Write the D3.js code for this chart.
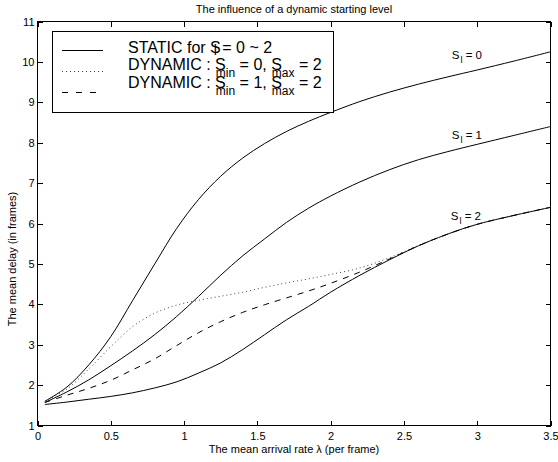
<!DOCTYPE html>
<html>
<head>
<meta charset="utf-8">
<script src="https://cdn.jsdelivr.net/npm/d3@7"></script>
<style>
  html, body { margin: 0; padding: 0; background: #fff; }
  svg { display: block; }
  text { font-family: "Liberation Sans", Arial, Helvetica, sans-serif; fill: #000; }
</style>
</head>
<body>
<svg id="chart" width="558" height="462"></svg>
<script>
// ---- data ----
const lambda   = [0.05,0.2,0.35,0.5,0.65,0.8,0.95,1.1,1.25,1.4,1.55,1.7,1.85,2.0,2.2,2.4,2.6,2.8,3.0,3.25,3.5];
const staticS0 = [1.6,1.95,2.5,3.2,4.1,5.0,5.88,6.6,7.17,7.62,7.98,8.28,8.53,8.75,9.02,9.25,9.45,9.63,9.8,10.02,10.25];
const staticS1 = [1.57,1.83,2.13,2.48,2.85,3.25,3.7,4.2,4.72,5.2,5.62,6.03,6.38,6.68,7.03,7.33,7.58,7.78,7.96,8.18,8.4];
const staticS2 = [1.52,1.58,1.65,1.72,1.81,1.93,2.08,2.3,2.55,2.88,3.25,3.62,3.95,4.3,4.72,5.1,5.45,5.74,5.98,6.2,6.4];
const dynamic02 = [1.6,1.9,2.4,2.95,3.45,3.78,3.98,4.1,4.2,4.3,4.42,4.53,4.63,4.74,4.9,5.15,5.46,5.74,5.98,6.2,6.4];
const dynamic12 = [1.57,1.75,1.92,2.12,2.38,2.65,2.98,3.3,3.57,3.8,3.99,4.16,4.33,4.52,4.8,5.12,5.45,5.74,5.98,6.2,6.4];
const xTicks = [0,0.5,1,1.5,2,2.5,3,3.5];
const yTicks = [1,2,3,4,5,6,7,8,9,10,11];
const curveLabels = [
  {sub: "l", rest: " = 0", x: 2.827, y: 10.06},
  {sub: "l", rest: " = 1", x: 2.827, y: 8.08},
  {sub: "l", rest: " = 2", x: 2.82,  y: 6.08}
];
const titleText = "The influence of a dynamic starting level";
const xLabelText = "The mean arrival rate \u03bb (per frame)";
const yLabelText = "The mean delay (in frames)";

// ---- chart ----
const svg = d3.select("#chart");
const L = 37.5, R = 550.5, T = 21.5, B = 425.5;
const x = d3.scaleLinear().domain([0, 3.5]).range([L, R]);
const y = d3.scaleLinear().domain([1, 11]).range([B, T]);

const fmt = d => String(d);

// axes
const ax = svg.append("g").attr("class", "axes");
const gB = ax.append("g").attr("transform", `translate(0,${B})`)
  .call(d3.axisBottom(x).tickValues(xTicks).tickFormat(fmt).tickSizeInner(-5).tickSizeOuter(0).tickPadding(7));
const gT = ax.append("g").attr("transform", `translate(0,${T})`)
  .call(d3.axisTop(x).tickValues(xTicks).tickFormat("").tickSizeInner(-5).tickSizeOuter(0));
const gL = ax.append("g").attr("transform", `translate(${L},0)`)
  .call(d3.axisLeft(y).tickValues(yTicks).tickFormat(fmt).tickSizeInner(-5).tickSizeOuter(0).tickPadding(3));
const gR = ax.append("g").attr("transform", `translate(${R},0)`)
  .call(d3.axisRight(y).tickValues(yTicks).tickFormat("").tickSizeInner(-5).tickSizeOuter(0));
[gB, gT, gL, gR].forEach(g => {
  g.select(".domain").remove();
  g.selectAll(".tick line").attr("stroke", "#000").attr("shape-rendering", "crispEdges");
  g.selectAll(".tick text").attr("font-size", 11).attr("font-family", "Liberation Sans, Arial, sans-serif").attr("fill", "#000");
});
ax.append("rect").attr("x", L).attr("y", T).attr("width", R - L).attr("height", B - T)
  .attr("fill", "none").attr("stroke", "#000").attr("stroke-width", 1).attr("shape-rendering", "crispEdges");

// lines
const line = d3.line().x(d => x(d[0])).y(d => y(d[1])).curve(d3.curveCatmullRom.alpha(0.5));
const series = [
  {v: staticS0, dash: null},
  {v: staticS1, dash: null},
  {v: staticS2, dash: null},
  {v: dynamic02, dash: "1,3"},
  {v: dynamic12, dash: "6,6"}
];
const gLines = svg.append("g");
series.forEach(s => {
  gLines.append("path")
    .datum(lambda.map((l, i) => [l, s.v[i]]))
    .attr("d", line)
    .attr("fill", "none")
    .attr("stroke", s.dash === "1,3" ? "#444" : "#000")
    .attr("stroke-width", 1)
    .attr("stroke-dasharray", s.dash);
});

// curve labels
curveLabels.forEach(c => {
  const t = svg.append("text").attr("x", x(c.x)).attr("y", y(c.y)).attr("font-size", 11.5);
  t.append("tspan").text("S");
  t.append("tspan").attr("font-size", 9).attr("dy", 4).attr("dx", 1).text(c.sub);
  t.append("tspan").attr("dy", -4).text(c.rest);
});

// title and labels
svg.append("text").attr("x", (L + R) / 2).attr("y", 13).attr("text-anchor", "middle")
  .attr("font-size", 11).text(titleText);
svg.append("text").attr("x", (L + R) / 2).attr("y", 453).attr("text-anchor", "middle")
  .attr("font-size", 11).text(xLabelText);
svg.append("text").attr("transform", "translate(15.5,259) rotate(-90)").attr("text-anchor", "middle")
  .attr("font-size", 11).text(yLabelText);

// legend
const lg = svg.append("g");
lg.append("rect").attr("x", 52.5).attr("y", 31.5).attr("width", 281).attr("height", 81)
  .attr("fill", "#fff").attr("stroke", "#000").attr("stroke-width", 1).attr("shape-rendering", "crispEdges");
const legendRows = [
  {ly: 50.5, dash: null, color: "#000", ty: 52.5},
  {ly: 71.5, dash: "1,3", color: "#444", ty: 70},
  {ly: 92.5, dash: "6,8", color: "#000", ty: 87.7}
];
legendRows.forEach(r => {
  lg.append("line").attr("x1", 62).attr("x2", 103).attr("y1", r.ly).attr("y2", r.ly)
    .attr("stroke", r.color).attr("stroke-width", 1).attr("stroke-dasharray", r.dash);
});
const t1 = lg.append("text").attr("x", 128).attr("y", legendRows[0].ty).attr("font-size", 16);
t1.append("tspan").text("STATIC for S");
t1.append("tspan").attr("font-size", 14).attr("dx", -7).attr("dy", 2).text("l");
t1.append("tspan").attr("dx", 1).attr("dy", -2).text(" = 0 ~ 2");

[["0", "2"], ["1", "2"]].forEach((v, i) => {
  const t = lg.append("text").attr("x", 128).attr("y", legendRows[i + 1].ty).attr("font-size", 16);
  t.append("tspan").text("DYNAMIC : S");
  t.append("tspan").attr("font-size", 12).attr("dx", -10).attr("dy", 7).text("min");
  t.append("tspan").attr("dy", -7).text(" = " + v[0] + ", S");
  t.append("tspan").attr("font-size", 12).attr("dx", -10).attr("dy", 7).text("max");
  t.append("tspan").attr("dy", -7).text(" = " + v[1]);
});
</script>
</body>
</html>
